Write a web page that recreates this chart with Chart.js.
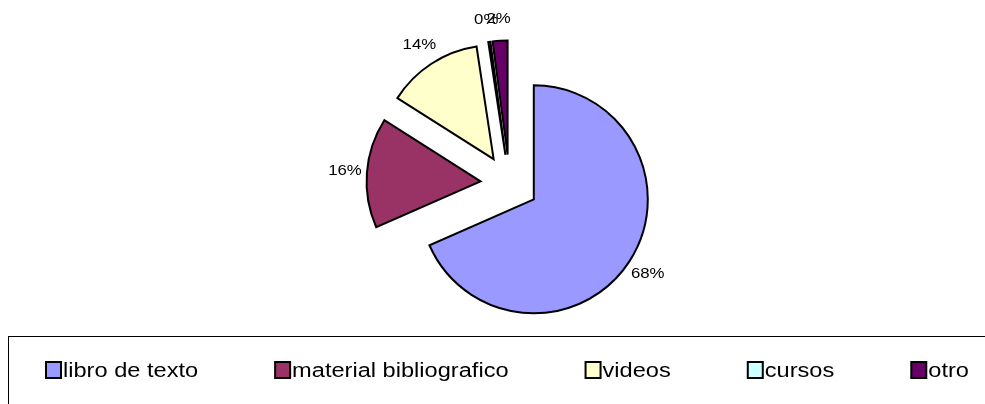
<!DOCTYPE html>
<html>
<head>
<meta charset="utf-8">
<script src="https://cdn.jsdelivr.net/npm/chart.js@4.4.0/dist/chart.umd.min.js"></script>
<style>
    body { margin: 0; background: #fff; }
    canvas { display: block; }
</style>
</head>
<body>
<canvas id="myChart" width="985" height="404"></canvas>
<script>
var labels = ['libro de texto', 'material bibliografico', 'videos', 'cursos', 'otro'];
var values = [68.4, 15.6, 13.6, 0.3, 2.1];
var colors = ['#9999FF', '#993366', '#FFFFCC', '#CCFFFF', '#660066'];

var explode = 29;

// every slice is pulled out of the pie by the same distance
var explodePlugin = {
    id: 'explode',
    beforeDatasetsDraw: function (chart) {
        chart.getDatasetMeta(0).data.forEach(function (arc) {
            if (arc._exploded) return;
            arc._exploded = true;
            var baseDraw = arc.draw;
            arc.draw = function (ctx, area) {
                var mid = (this.startAngle + this.endAngle) / 2;
                ctx.save();
                ctx.translate(Math.cos(mid) * explode, Math.sin(mid) * explode);
                baseDraw.call(this, ctx, area);
                ctx.restore();
            };
        });
    }
};

function stretchedText(ctx, text, x, y, sx) {
    ctx.save();
    ctx.translate(x, y);
    ctx.scale(sx, 1);
    ctx.fillText(text, 0, 0);
    ctx.restore();
}

var percentLabels = {
    id: 'percentLabels',
    afterDatasetsDraw: function (chart) {
        var ctx = chart.ctx;
        var total = values.reduce(function (a, b) { return a + b; }, 0);
        ctx.save();
        ctx.font = '15px "Liberation Sans", Arial, sans-serif';
        ctx.fillStyle = '#000';
        ctx.textAlign = 'center';
        ctx.textBaseline = 'middle';
        chart.getDatasetMeta(0).data.forEach(function (arc, i) {
            var mid = (arc.startAngle + arc.endAngle) / 2;
            var r = explode + arc.outerRadius + 22;
            var x = arc.x + Math.cos(mid) * r;
            var y = arc.y + Math.sin(mid) * r;
            stretchedText(ctx, Math.round(values[i] / total * 100) + '%', x, y, 1.12);
        });
        ctx.restore();
    }
};

var boxLegend = {
    id: 'boxLegend',
    afterDraw: function (chart) {
        var ctx = chart.ctx;
        var sx = 1.18;
        ctx.save();
        ctx.strokeStyle = '#000';
        ctx.lineWidth = 1;
        ctx.strokeRect(8.5, 336.5, 1000, 100);
        ctx.font = '20px "Liberation Sans", Arial, sans-serif';
        ctx.textBaseline = 'alphabetic';
        ctx.textAlign = 'left';
        var x = 46;
        labels.forEach(function (label, i) {
            ctx.fillStyle = colors[i];
            ctx.fillRect(x, 362, 15, 16);
            ctx.lineWidth = 2;
            ctx.strokeStyle = '#000';
            ctx.strokeRect(x, 362, 15, 16);
            ctx.fillStyle = '#000';
            stretchedText(ctx, label, x + 17, 377, sx);
            x += 17 + ctx.measureText(label).width * sx + 77;
        });
        ctx.restore();
    }
};

var ctx = document.getElementById('myChart').getContext('2d');
var myChart = new Chart(ctx, {
    type: 'pie',
    data: {
        labels: labels,
        datasets: [{
            data: values,
            backgroundColor: colors,
            borderColor: '#000',
            borderWidth: 2,
            borderJoinStyle: 'miter'
        }]
    },
    options: {
        responsive: false,
        animation: false,
        devicePixelRatio: 1,
        radius: 114,
        layout: {
            padding: { left: 34, right: 0, top: 0, bottom: 37 }
        },
        plugins: {
            legend: { display: false },
            tooltip: { enabled: false },
            title: { display: false }
        }
    },
    plugins: [explodePlugin, percentLabels, boxLegend]
});
</script>
</body>
</html>
